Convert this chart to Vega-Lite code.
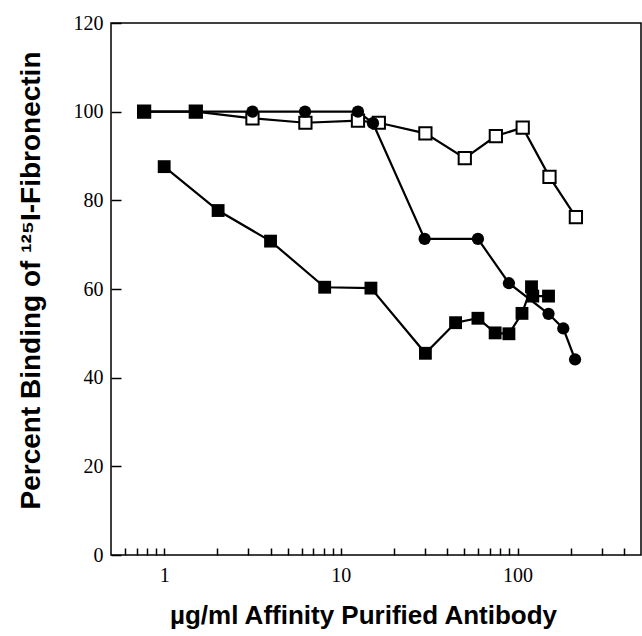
{
  "$schema": "https://vega.github.io/schema/vega-lite/v6.json",
  "width": 530,
  "height": 532,
  "autosize": "none",
  "padding": {"left": 111, "top": 23, "right": 1, "bottom": 81},
  "background": "white",
  "config": {
    "view": {"stroke": "black", "strokeWidth": 1.5},
    "axis": {"grid": false, "domain": false, "ticks": true, "tickColor": "black", "tickWidth": 1.5, "labelColor": "black", "titleColor": "black"}
  },
  "data": {
    "values": [
      {"s": "Ctrl", "x": 0.77, "y": 100},
      {"s": "Ctrl", "x": 1.51, "y": 100},
      {"s": "B", "x": 0.77, "y": 100},
      {"s": "B", "x": 1.51, "y": 100},
      {"s": "B", "x": 3.16, "y": 100},
      {"s": "B", "x": 6.27, "y": 100},
      {"s": "B", "x": 12.5, "y": 100},
      {"s": "B", "x": 15.2, "y": 97.4},
      {"s": "B", "x": 29.8, "y": 71.3},
      {"s": "B", "x": 59.7, "y": 71.3},
      {"s": "B", "x": 89.4, "y": 61.3},
      {"s": "B", "x": 149.8, "y": 54.4},
      {"s": "B", "x": 181.6, "y": 51.1},
      {"s": "B", "x": 211.7, "y": 44.1},
      {"s": "C", "x": 0.77, "y": 100},
      {"s": "C", "x": 1.51, "y": 100},
      {"s": "C", "x": 3.16, "y": 98.5},
      {"s": "C", "x": 6.3, "y": 97.5},
      {"s": "C", "x": 12.5, "y": 98.0},
      {"s": "C", "x": 16.4, "y": 97.5},
      {"s": "C", "x": 30.1, "y": 95.1},
      {"s": "C", "x": 50.3, "y": 89.5},
      {"s": "C", "x": 75.4, "y": 94.5},
      {"s": "C", "x": 107, "y": 96.4},
      {"s": "C", "x": 151.7, "y": 85.3},
      {"s": "C", "x": 214, "y": 76.2},
      {"s": "A", "x": 1.0, "y": 87.6},
      {"s": "A", "x": 2.02, "y": 77.7},
      {"s": "A", "x": 4.0, "y": 70.8},
      {"s": "A", "x": 8.1, "y": 60.4},
      {"s": "A", "x": 14.8, "y": 60.2},
      {"s": "A", "x": 30.1, "y": 45.5},
      {"s": "A", "x": 44.6, "y": 52.4},
      {"s": "A", "x": 59.7, "y": 53.4},
      {"s": "A", "x": 74.7, "y": 50.1},
      {"s": "A", "x": 89.4, "y": 49.9},
      {"s": "A", "x": 106, "y": 54.5},
      {"s": "A", "x": 120, "y": 60.5},
      {"s": "A", "x": 122, "y": 58.4},
      {"s": "A", "x": 149.8, "y": 58.4}
    ]
  },
  "layer": [
    {
      "transform": [{"filter": "datum.s !== 'Ctrl'"}],
      "mark": {"type": "line", "color": "black", "strokeWidth": 2.2},
      "encoding": {
        "x": {"field": "x", "type": "quantitative", "scale": {"type": "log", "domain": [0.5, 500], "nice": false},
          "axis": {"orient": "bottom", "values": [0.6, 0.7, 0.8, 0.9, 1, 2, 3, 4, 5, 6, 7, 8, 9, 10, 20, 30, 40, 50, 60, 70, 80, 90, 100, 200, 300, 400],
            "tickSize": -7, "labelExpr": "datum.value === 1 || datum.value === 10 || datum.value === 100 ? datum.label : ''", "labelOverlap": false, "labelFlush": false,
            "labelFont": "Liberation Serif", "labelFontSize": 20, "labelPadding": 17,
            "title": "µg/ml Affinity Purified Antibody", "titleFont": "Liberation Sans", "titleFontWeight": "bold", "titleFontSize": 26,
            "titleX": 252, "titleY": 60, "titleAlign": "center", "titleBaseline": "middle"}},
        "y": {"field": "y", "type": "quantitative", "scale": {"domain": [0, 120], "nice": false},
          "axis": {"orient": "left", "values": [0, 20, 40, 60, 80, 100, 120], "tickSize": -10, "labelFont": "Liberation Serif", "labelFontSize": 20, "labelPadding": 18,
            "title": "Percent Binding of ¹²⁵I-Fibronectin", "titleFont": "Liberation Sans", "titleFontWeight": "bold", "titleFontSize": 28,
            "titleX": -80, "titleY": 257, "titleAngle": 270, "titleAlign": "center", "titleBaseline": "middle"}},
        "detail": {"field": "s"}
      }
    },
    {
      "transform": [{"filter": "datum.s === 'C'"}],
      "mark": {"type": "point", "shape": "square", "filled": true, "fill": "white", "stroke": "black", "strokeWidth": 2, "size": 150, "opacity": 1},
      "encoding": {
        "x": {"field": "x", "type": "quantitative"},
        "y": {"field": "y", "type": "quantitative"}
      }
    },
    {
      "transform": [{"filter": "datum.s === 'B'"}],
      "mark": {"type": "circle", "color": "black", "size": 150, "opacity": 1},
      "encoding": {
        "x": {"field": "x", "type": "quantitative"},
        "y": {"field": "y", "type": "quantitative"}
      }
    },
    {
      "transform": [{"filter": "datum.s === 'A' || datum.s === 'Ctrl'"}],
      "mark": {"type": "square", "color": "black", "size": 165, "opacity": 1},
      "encoding": {
        "x": {"field": "x", "type": "quantitative"},
        "y": {"field": "y", "type": "quantitative"}
      }
    }
  ]
}
